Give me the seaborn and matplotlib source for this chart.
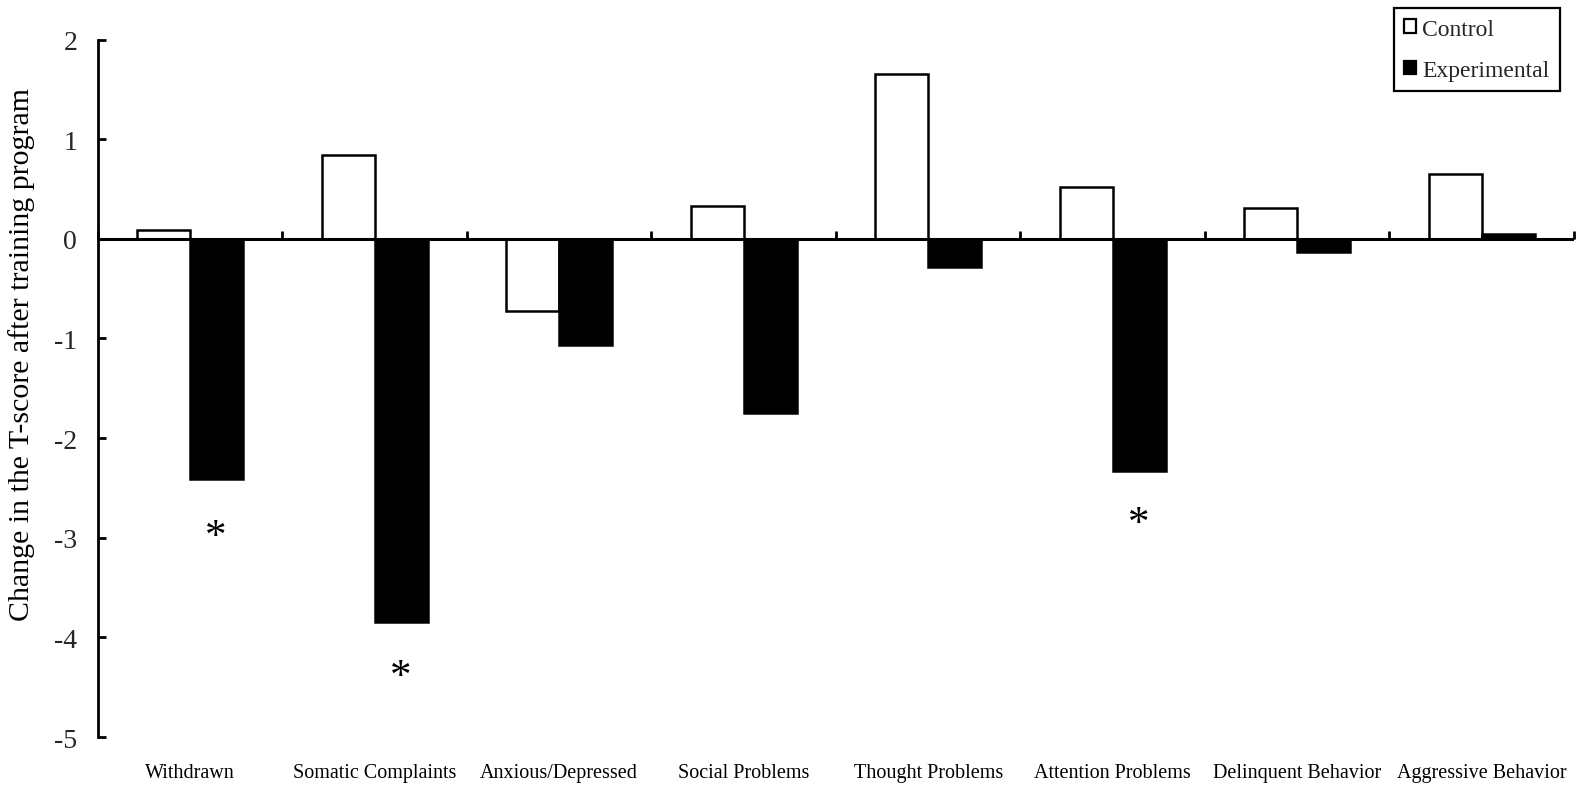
import matplotlib
matplotlib.use("Agg")
import matplotlib.pyplot as plt
import seaborn as sns
import pandas as pd
import numpy as np
from matplotlib.patches import Patch

# Subscale names (CBCL) and mean change in T-score after the training program
categories = ["Withdrawn", "Somatic Complaints", "Anxious/Depressed", "Social Problems",
              "Thought Problems", "Attention Problems", "Delinquent Behavior", "Aggressive Behavior"]
control = [0.09, 0.84, -0.72, 0.33, 1.65, 0.52, 0.31, 0.65]
experimental = [-2.41, -3.85, -1.07, -1.75, -0.28, -2.33, -0.13, 0.05]
groups = ["Control", "Experimental"]

# Significant differences marked with an asterisk: (category, y position)
significant = [("Withdrawn", -2.99), ("Somatic Complaints", -4.40), ("Attention Problems", -2.86)]

yticks = [2, 1, 0, -1, -2, -3, -4, -5]

df = pd.DataFrame({
    "category": categories * 2,
    "value": control + experimental,
    "group": [groups[0]] * len(categories) + [groups[1]] * len(categories),
})

sns.set_theme(style="white")
plt.rcParams["font.family"] = ["Liberation Serif", "DejaVu Serif"]

fig = plt.figure(figsize=(15.83, 8.12), dpi=100)
ax = fig.add_axes([0.0619, 0.0911, 0.9324, 0.8590])

group_width = 0.575
sns.barplot(data=df, x="category", y="value", hue="group", order=categories,
            hue_order=groups, palette={"Control": "white", "Experimental": "black"},
            edgecolor="black", linewidth=1.8, width=group_width, saturation=1,
            legend=False, ax=ax)

ax.set_xlim(-0.5, len(categories) - 0.5)
ax.set_ylim(-5, 2)
ax.set_yticks(yticks)
ax.set_yticklabels([str(t) for t in yticks])

for side in ["top", "right", "bottom"]:
    ax.spines[side].set_visible(False)
ax.spines["left"].set_color("black")
ax.spines["left"].set_linewidth(2)

ax.tick_params(axis="y", direction="in", length=6, width=2, color="black",
               labelsize=20, pad=15, left=True)
ax.tick_params(axis="x", length=0, labelsize=14.5, pad=19, colors="black")
ax.set_xlabel("")

# Zero line with small upward marks at the category boundaries
ax.axhline(0, color="black", linewidth=2.2, zorder=3)
zero_axis = ax.secondary_xaxis(5 / 7)
zero_axis.spines["bottom"].set_linewidth(2.2)
zero_axis.spines["bottom"].set_color("black")
boundaries = np.arange(len(categories) + 1) - 0.5
zero_axis.set_xticks(boundaries)
zero_axis.set_xticklabels([""] * len(boundaries))
zero_axis.tick_params(axis="x", direction="out", length=6, width=2, color="black",
                      labelbottom=False, labeltop=False)

ax.set_ylabel("Change in the T-score after training program", fontsize=21.5,
              color="black", va="center")
ax.yaxis.set_label_coords(-0.0515, 0.55)

# Asterisks under the experimental bars
offset = group_width / 4
for name, ypos in significant:
    xi = categories.index(name) + offset - 0.005
    ax.text(xi, ypos, "*", ha="center", va="center", fontsize=31, color="black")

handles = [Patch(facecolor="white", edgecolor="black", linewidth=1.6),
           Patch(facecolor="black", edgecolor="black", linewidth=1.6)]
leg = ax.legend(handles, groups, loc="upper right", bbox_to_anchor=(0.9855, 0.989),
                bbox_transform=fig.transFigure, borderaxespad=0, fontsize=17,
                frameon=True, fancybox=False, handlelength=0.5, handleheight=0.5,
                handletextpad=0.25, labelspacing=0.85, borderpad=0.45)
leg.get_frame().set_edgecolor("black")
leg.get_frame().set_linewidth(1.6)
leg.get_frame().set_alpha(1)

fig.savefig("out.png", dpi=100, facecolor="white")
